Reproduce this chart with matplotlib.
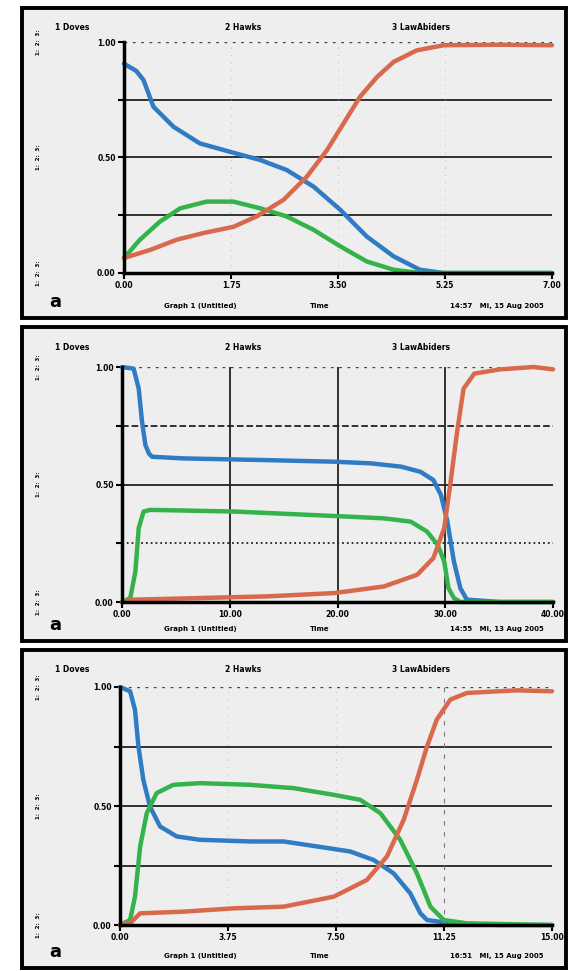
import matplotlib
matplotlib.use("Agg")
import matplotlib.pyplot as plt
from matplotlib.patches import Rectangle

W, H = 571, 971

# ---- data ----
names = ["1 Doves", "2 Hawks", "3 LawAbiders"]

# graph 1, time 0..7
t1_doves = [0, 0.2, 0.32, 0.48, 0.81, 1.24, 1.73, 2.23, 2.66, 3.1, 3.54, 3.97, 4.41, 4.84, 5.23, 7.0]
v1_doves = [0.906, 0.875, 0.835, 0.72, 0.633, 0.561, 0.525, 0.489, 0.446, 0.374, 0.273, 0.158, 0.072, 0.014, 0.0, 0.0]
t1_hawks = [0, 0.26, 0.59, 0.92, 1.35, 1.79, 2.23, 2.66, 3.1, 3.54, 3.97, 4.41, 4.84, 7.0]
v1_hawks = [0.065, 0.144, 0.223, 0.28, 0.309, 0.309, 0.28, 0.245, 0.187, 0.115, 0.05, 0.014, 0.0, 0.0]
t1_law = [0, 0.43, 0.86, 1.3, 1.79, 2.17, 2.61, 2.99, 3.32, 3.59, 3.86, 4.14, 4.41, 4.79, 5.23, 6.15, 7.0]
v1_law = [0.065, 0.10, 0.144, 0.173, 0.2, 0.245, 0.317, 0.417, 0.532, 0.647, 0.763, 0.849, 0.914, 0.964, 0.986, 0.988, 0.986]

# graph 2, time 0..40
t2_doves = [0, 1.08, 1.55, 1.86, 2.17, 2.5, 2.79, 5.7, 13.2, 19.7, 23.1, 25.9, 27.7, 28.9, 29.6, 30.2, 30.8, 31.4, 32.0, 35.1, 40.0]
v2_doves = [1.0, 0.993, 0.908, 0.767, 0.668, 0.632, 0.618, 0.611, 0.604, 0.597, 0.59, 0.576, 0.554, 0.519, 0.455, 0.342, 0.173, 0.059, 0.01, 0.0, 0.0]
t2_hawks = [0, 0.77, 1.24, 1.55, 2.0, 2.63, 10.4, 19.7, 24.3, 26.8, 28.3, 29.3, 29.9, 30.3, 30.8, 31.4, 40.0]
v2_hawks = [0.0, 0.017, 0.13, 0.314, 0.385, 0.392, 0.385, 0.366, 0.356, 0.342, 0.3, 0.243, 0.173, 0.059, 0.017, 0.0, 0.0]
t2_law = [0, 1.08, 7.3, 13.5, 19.7, 24.3, 27.4, 28.9, 29.9, 30.5, 31.1, 31.7, 32.7, 35.1, 38.2, 40.0]
v2_law = [0.0, 0.01, 0.017, 0.024, 0.038, 0.066, 0.116, 0.187, 0.314, 0.512, 0.724, 0.908, 0.972, 0.99, 1.0, 0.99]

# graph 3, time 0..15
t3_doves = [0, 0.35, 0.52, 0.64, 0.81, 1.04, 1.39, 1.97, 2.78, 4.52, 5.68, 6.84, 7.99, 8.81, 9.5, 10.08, 10.43, 10.66, 11.47, 13.2, 15.0]
v3_doves = [1.0, 0.982, 0.905, 0.75, 0.61, 0.498, 0.414, 0.372, 0.358, 0.351, 0.351, 0.33, 0.309, 0.273, 0.217, 0.133, 0.049, 0.021, 0.007, 0.0, 0.0]
t3_hawks = [0, 0.35, 0.52, 0.7, 0.93, 1.27, 1.85, 2.78, 4.52, 6.03, 7.42, 8.34, 9.04, 9.73, 10.31, 10.78, 11.24, 12.05, 15.0]
v3_hawks = [0.0, 0.021, 0.119, 0.33, 0.47, 0.554, 0.589, 0.596, 0.589, 0.575, 0.547, 0.526, 0.47, 0.358, 0.217, 0.077, 0.021, 0.007, 0.0]
t3_law = [0, 0.35, 0.7, 2.2, 3.94, 5.68, 7.42, 8.57, 9.27, 9.85, 10.31, 10.66, 11.0, 11.47, 12.05, 13.79, 15.0]
v3_law = [0.0, 0.007, 0.049, 0.056, 0.07, 0.077, 0.119, 0.189, 0.288, 0.442, 0.61, 0.75, 0.863, 0.947, 0.975, 0.986, 0.982]

xticks1 = ["0.00", "1.75", "3.50", "5.25", "7.00"]
xticks2 = ["0.00", "10.00", "20.00", "30.00", "40.00"]
xticks3 = ["0.00", "3.75", "7.50", "11.25", "15.00"]
stamps = ["14:57   Mi, 15 Aug 2005", "14:55   Mi, 13 Aug 2005", "16:51   Mi, 15 Aug 2005"]

blue = "#2f7cc4"
green = "#33b34a"
red = "#d9694c"


def fx(x):
    return x / W


def fy(y):
    return 1 - y / H


fig = plt.figure(figsize=(W / 100, H / 100), dpi=100)
fig.patch.set_facecolor("white")

# panel frames (pixel boxes) and plot areas
frames = [(22, 8, 566, 318), (22, 327, 566, 641), (22, 650, 566, 968)]
areas = [(124, 42, 552, 273), (122, 367, 553, 602), (120, 687, 552, 925)]
tmax = [7.0, 40.0, 15.0]
series = [
    [(t1_doves, v1_doves, blue), (t1_hawks, v1_hawks, green), (t1_law, v1_law, red)],
    [(t2_doves, v2_doves, blue), (t2_hawks, v2_hawks, green), (t2_law, v2_law, red)],
    [(t3_doves, v3_doves, blue), (t3_hawks, v3_hawks, green), (t3_law, v3_law, red)],
]
xlabels = [xticks1, xticks2, xticks3]
# grid line styles per panel: (horizontal at .25,.5,.75), verticals
hstyles = [["-", "-", "-"], [":", "-", "--"], ["-", "-", "-"]]
vstyles = [[":", ":", ":"], ["-", "-", "-"], [":", ":", "--"]]

for i in range(3):
    x0, y0, x1, y1 = frames[i]
    fig.patches.append(Rectangle((fx(x0), fy(y1)), fx(x1 - x0), (y1 - y0) / H,
                                 transform=fig.transFigure, facecolor="#eeeeee",
                                 edgecolor="black", linewidth=2.8, zorder=-5))

    l, t, r, b = areas[i]
    ax = fig.add_axes([fx(l), fy(b), fx(r - l), (b - t) / H])
    ax.set_facecolor("none")
    ax.set_xlim(0, tmax[i])
    ax.set_ylim(0, 1)

    for k, yv in enumerate([0.25, 0.5, 0.75]):
        ax.axhline(yv, color="#222222", lw=1.3, ls=hstyles[i][k], zorder=1)
    ax.axhline(1.0, color="#444444", lw=1.0, ls=(0, (2, 4)), zorder=1)
    for k in range(3):
        xv = tmax[i] * (k + 1) / 4
        if vstyles[i][k] == "-":
            ax.axvline(xv, color="#222222", lw=1.3, zorder=1)
        elif vstyles[i][k] == "--":
            ax.axvline(xv, color="#777777", lw=0.8, ls=(0, (4, 6)), zorder=1)
        else:
            ax.axvline(xv, color="#aaaaaa", lw=0.6, ls=(0, (1, 8)), zorder=1)

    for tt, vv, c in series[i]:
        ax.plot(tt, vv, color=c, lw=3.2, solid_capstyle="round", solid_joinstyle="round",
                clip_on=False, zorder=3)

    for s in ["top", "right"]:
        ax.spines[s].set_visible(False)
    ax.spines["left"].set_linewidth(2.5)
    ax.spines["bottom"].set_linewidth(2.5)
    ax.spines["left"].set_zorder(4)
    ax.spines["bottom"].set_zorder(4)

    ax.set_xticks([tmax[i] * k / 4 for k in range(5)])
    ax.set_xticklabels(xlabels[i], fontsize=5.5, fontweight="bold")
    ax.set_yticks([0, 0.25, 0.5, 0.75, 1.0])
    ax.set_yticklabels(["0.00", "", "0.50", "", "1.00"], fontsize=5.5, fontweight="bold")
    ax.tick_params(length=4, width=1.5, pad=2)

    # header legend
    hy = fy(frames[i][1] + 20)
    fig.text(fx(55), hy, names[0], fontsize=5.5, fontweight="bold", va="center")
    fig.text(fx(225), hy, names[1], fontsize=5.5, fontweight="bold", va="center")
    fig.text(fx(392), hy, names[2], fontsize=5.5, fontweight="bold", va="center")

    # stacked scale markers on the left
    for yv in [0.0, 0.5, 1.0]:
        py = b - yv * (b - t)
        fig.text(fx(38), fy(py), "1:  2:  3:", fontsize=4, fontweight="bold",
                 rotation=90, ha="center", va="center")

    # footer
    fy_ = fy(frames[i][3] - 12)
    fig.text(fx(55), fy(frames[i][3] - 16), "a", fontsize=13, fontweight="bold",
             ha="center", va="center")
    fig.text(fx(200), fy_, "Graph 1 (Untitled)", fontsize=5, fontweight="bold",
             ha="center", va="center")
    fig.text(fx(320), fy_, "Time", fontsize=5, fontweight="bold", ha="center", va="center")
    fig.text(fx(497), fy_, stamps[i], fontsize=5, fontweight="bold", ha="center", va="center")

fig.savefig("out.png", dpi=100)
